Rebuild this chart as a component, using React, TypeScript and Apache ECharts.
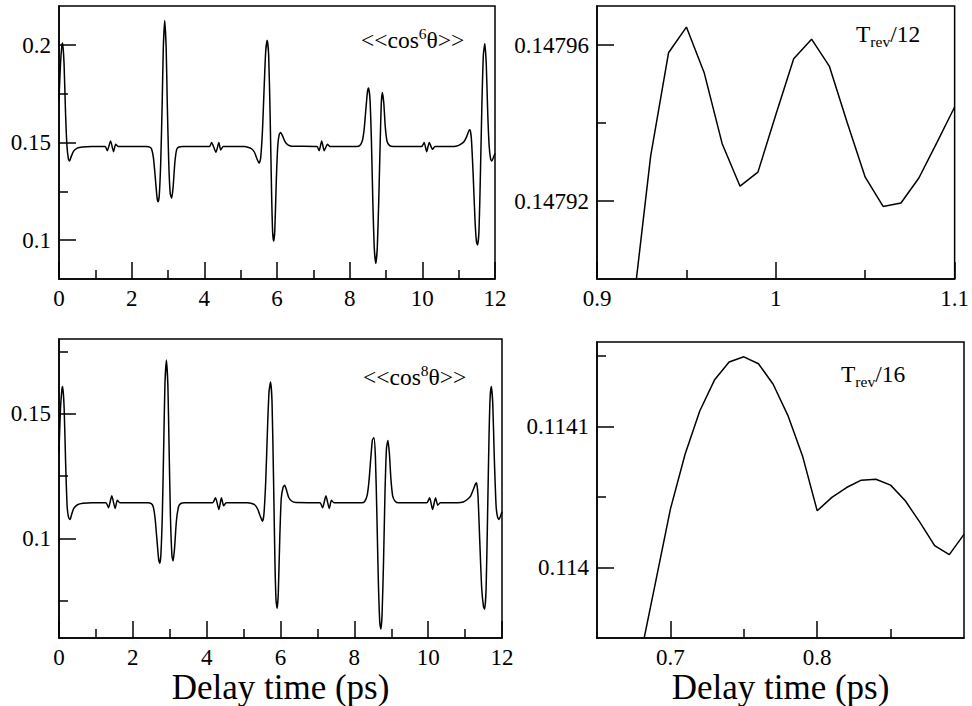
import { useEffect, useRef } from "react";
import * as echarts from "echarts";

const FONT = "Liberation Serif";

// <<cos^6 theta>> versus delay time (ps)
const cos6Data: [number, number][] = [
  [0, 0.172], [0.04, 0.19], [0.08, 0.2], [0.1, 0.201], [0.14, 0.19], [0.18, 0.165], [0.22, 0.148], [0.26, 0.1415],
  [0.29, 0.1405], [0.33, 0.1425], [0.4, 0.1455], [0.5, 0.1471], [0.65, 0.1477], [0.9, 0.1479],
  [1.27, 0.1479], [1.33, 0.1458], [1.42, 0.1508], [1.5, 0.1453], [1.56, 0.1491], [1.63, 0.1479],
  [2.4, 0.1479], [2.5, 0.1476], [2.55, 0.1465], [2.6, 0.142], [2.65, 0.132], [2.7, 0.1215], [2.73, 0.1196],
  [2.76, 0.123], [2.8, 0.14], [2.84, 0.17], [2.87, 0.198], [2.91, 0.2126], [2.95, 0.198], [2.98, 0.17],
  [3.02, 0.14], [3.06, 0.124], [3.1, 0.1214], [3.14, 0.127], [3.19, 0.14], [3.24, 0.1465], [3.3, 0.1477], [3.4, 0.1479],
  [4.14, 0.1479], [4.2, 0.15], [4.32, 0.145], [4.4, 0.15], [4.45, 0.1462], [4.52, 0.1479],
  [5.1, 0.1479], [5.2, 0.1476], [5.3, 0.1468], [5.38, 0.145], [5.45, 0.1415], [5.51, 0.1394], [5.55, 0.142],
  [5.6, 0.156], [5.65, 0.18], [5.69, 0.197], [5.73, 0.2024], [5.77, 0.195], [5.81, 0.165], [5.85, 0.125],
  [5.88, 0.104], [5.91, 0.0994], [5.94, 0.105], [5.98, 0.13], [6.02, 0.148], [6.06, 0.154], [6.1, 0.1551],
  [6.15, 0.1535], [6.22, 0.1505], [6.3, 0.1488], [6.4, 0.1481],
  [7.1, 0.1479], [7.16, 0.1458], [7.23, 0.1508], [7.3, 0.1458], [7.39, 0.1491], [7.46, 0.1479],
  [8.2, 0.1479], [8.28, 0.1484], [8.35, 0.151], [8.4, 0.157], [8.45, 0.168], [8.49, 0.176], [8.52, 0.1779],
  [8.56, 0.172], [8.6, 0.15], [8.64, 0.118], [8.68, 0.095], [8.72, 0.088], [8.76, 0.096], [8.8, 0.12],
  [8.84, 0.15], [8.87, 0.17], [8.9, 0.1756], [8.94, 0.17], [8.98, 0.158], [9.03, 0.1505], [9.1, 0.1484], [9.2, 0.1479],
  [9.98, 0.1479], [10.05, 0.15], [10.12, 0.1453], [10.19, 0.15], [10.28, 0.1465], [10.35, 0.1479],
  [10.8, 0.1479], [10.95, 0.1482], [11.05, 0.149], [11.15, 0.1505], [11.22, 0.153], [11.28, 0.156], [11.31, 0.1565],
  [11.35, 0.152], [11.4, 0.133], [11.45, 0.11], [11.49, 0.099], [11.52, 0.0974], [11.56, 0.105], [11.6, 0.135],
  [11.64, 0.17], [11.68, 0.195], [11.72, 0.2007], [11.76, 0.19], [11.8, 0.165], [11.84, 0.148], [11.88, 0.1415],
  [11.91, 0.1405], [11.95, 0.142], [12, 0.1445],
];

// <<cos^8 theta>> versus delay time (ps)
const cos8Data: [number, number][] = [
  [0, 0.135], [0.04, 0.152], [0.08, 0.16], [0.1, 0.1609], [0.14, 0.152], [0.18, 0.13], [0.22, 0.113], [0.26, 0.1083],
  [0.3, 0.1076], [0.34, 0.1095], [0.4, 0.112], [0.5, 0.1135], [0.65, 0.1141], [0.9, 0.1143],
  [1.27, 0.1143], [1.34, 0.1123], [1.43, 0.1171], [1.52, 0.112], [1.58, 0.1153], [1.65, 0.1143],
  [2.4, 0.1143], [2.5, 0.114], [2.55, 0.1128], [2.6, 0.1085], [2.65, 0.1], [2.7, 0.0915], [2.73, 0.09],
  [2.76, 0.0935], [2.8, 0.11], [2.84, 0.14], [2.87, 0.162], [2.91, 0.1716], [2.95, 0.161], [2.98, 0.138],
  [3.02, 0.108], [3.06, 0.093], [3.09, 0.0909], [3.13, 0.096], [3.18, 0.107], [3.24, 0.1128], [3.3, 0.114], [3.4, 0.1143],
  [4.16, 0.1143], [4.24, 0.1163], [4.33, 0.1116], [4.4, 0.1163], [4.46, 0.1131], [4.53, 0.1143],
  [5.1, 0.1143], [5.2, 0.1141], [5.3, 0.1135], [5.38, 0.1118], [5.45, 0.109], [5.51, 0.1069], [5.55, 0.1095],
  [5.6, 0.123], [5.65, 0.145], [5.69, 0.159], [5.73, 0.1627], [5.77, 0.155], [5.81, 0.125], [5.85, 0.09],
  [5.88, 0.075], [5.91, 0.072], [5.94, 0.078], [5.98, 0.1], [6.02, 0.116], [6.07, 0.1205], [6.11, 0.1213],
  [6.16, 0.1195], [6.22, 0.1165], [6.3, 0.115], [6.42, 0.1144],
  [7.07, 0.1143], [7.14, 0.1123], [7.23, 0.1171], [7.32, 0.112], [7.38, 0.1153], [7.45, 0.1143],
  [8.2, 0.1143], [8.28, 0.1148], [8.35, 0.1175], [8.4, 0.1235], [8.45, 0.133], [8.49, 0.1395], [8.53, 0.1404],
  [8.57, 0.133], [8.61, 0.11], [8.65, 0.083], [8.69, 0.066], [8.72, 0.0636], [8.75, 0.069], [8.79, 0.09],
  [8.83, 0.118], [8.87, 0.136], [8.91, 0.1393], [8.95, 0.134], [8.99, 0.124], [9.04, 0.117], [9.11, 0.1148], [9.2, 0.1143],
  [9.96, 0.1143], [10.04, 0.1163], [10.12, 0.1116], [10.2, 0.1163], [10.26, 0.1133], [10.33, 0.1143],
  [10.8, 0.1143], [10.95, 0.1146], [11.05, 0.1155], [11.15, 0.117], [11.22, 0.1195], [11.28, 0.1218], [11.31, 0.1223],
  [11.35, 0.117], [11.4, 0.098], [11.45, 0.08], [11.5, 0.0725], [11.53, 0.0716], [11.57, 0.08], [11.61, 0.11],
  [11.65, 0.142], [11.68, 0.157], [11.71, 0.1609], [11.75, 0.154], [11.79, 0.133], [11.84, 0.113], [11.88, 0.1085],
  [11.92, 0.1076], [11.96, 0.109], [12, 0.1107],
];

// T_rev/12 zoom
const trev12Time = [0.92, 0.93, 0.94, 0.95, 0.96, 0.97, 0.98, 0.99, 1.0, 1.01, 1.02, 1.03, 1.04, 1.05, 1.06, 1.07, 1.08, 1.09, 1.1];
const trev12Value = [0.147892, 0.1479315, 0.147958, 0.1479646, 0.1479528, 0.1479347, 0.1479238, 0.1479274, 0.1479421,
  0.1479565, 0.1479615, 0.1479545, 0.14794, 0.1479261, 0.1479186, 0.1479195, 0.1479259, 0.1479349, 0.1479441];

// T_rev/16 zoom
const trev16Time = [0.68, 0.69, 0.7, 0.71, 0.72, 0.73, 0.74, 0.75, 0.76, 0.77, 0.78, 0.79, 0.8, 0.81, 0.82, 0.83, 0.84,
  0.85, 0.86, 0.87, 0.88, 0.89, 0.9];
const trev16Value = [0.1139392, 0.1139903, 0.1140415, 0.1140804, 0.1141111, 0.114133, 0.1141458, 0.1141495, 0.1141446,
  0.11413, 0.114108, 0.1140792, 0.1140403, 0.1140498, 0.1140568, 0.114062, 0.1140627, 0.1140585, 0.1140474, 0.1140321,
  0.1140156, 0.1140092, 0.1140236];

// ticks (major ones carry labels)
const leftXMajor = [0, 2, 4, 6, 8, 10, 12];
const leftXMinor = [1, 3, 5, 7, 9, 11];
const cos6YMajor = [0.1, 0.15, 0.2];
const cos6YMinor = [0.125, 0.175];
const cos8YMajor = [0.1, 0.15];
const cos8YMinor = [0.075, 0.125, 0.175];
const trev12XMajor = [0.9, 1.0, 1.1];
const trev12XMinor = [0.95, 1.05];
const trev12YMajor = [0.14792, 0.14796];
const trev12YMinor = [0.14794];
const trev16XMajor = [0.7, 0.8];
const trev16XMinor = [0.75, 0.85];
const trev16YMajor = [0.114, 0.1141];
const trev16YMinor = [0.11405, 0.11415];

const X_NAME = "Delay time (ps)";

function axes(
  dim: "x" | "y",
  gridIndex: number,
  min: number,
  max: number,
  step: number,
  major: number[],
  minor: number[],
  name?: string
) {
  const base: any = {
    type: "value",
    gridIndex,
    min,
    max,
    position: dim === "x" ? "bottom" : "left",
    splitLine: { show: false },
  };
  const majorAxis: any = {
    ...base,
    interval: step,
    axisLine: { show: true, onZero: false, lineStyle: { color: "#000", width: 1.5 } },
    axisTick: { show: true, inside: true, length: 17, customValues: major, lineStyle: { color: "#000", width: 1.5 } },
    axisLabel: {
      show: true,
      showMinLabel: true,
      showMaxLabel: true,
      hideOverlap: false,
      formatter: (v: number) => {
        const hit = major.find((m) => Math.abs(m - v) < step * 1e-3);
        return hit === undefined ? "" : String(hit);
      },
      color: "#000",
      fontFamily: FONT,
      fontSize: 23,
      margin: 8,
    },
  };
  if (name) {
    majorAxis.name = name;
    majorAxis.nameLocation = "middle";
    majorAxis.nameGap = 26;
    majorAxis.nameTextStyle = { fontFamily: FONT, fontSize: 35, color: "#000" };
  }
  const minorAxis: any = {
    ...base,
    axisLine: { show: false, onZero: false },
    axisLabel: { show: false },
    axisTick: { show: true, inside: true, length: 9, customValues: minor, lineStyle: { color: "#000", width: 1.5 } },
  };
  return [majorAxis, minorAxis];
}

export default function App() {
  const ref = useRef<HTMLDivElement>(null);
  useEffect(() => {
    if (!ref.current) return;
    const chart = echarts.init(ref.current, undefined, { renderer: "svg" });
    const gridStyle = { show: true, borderColor: "#000", borderWidth: 1.5, backgroundColor: "transparent", containLabel: false };
    const lineSeries = (data: any, idx: number, smooth: number | boolean) => ({
      type: "line",
      data,
      xAxisIndex: idx * 2,
      yAxisIndex: idx * 2,
      showSymbol: false,
      symbol: "none",
      smooth,
      clip: true,
      lineStyle: { color: "#000", width: 1.5 },
    });
    const sup = {
      a: { fontFamily: FONT, fontSize: 23.5, lineHeight: 30, verticalAlign: "middle", fill: "#000", color: "#000" },
      s: { fontFamily: FONT, fontSize: 15.5, lineHeight: 20, verticalAlign: "top", fill: "#000", color: "#000" },
    };
    const sub = {
      a: { fontFamily: FONT, fontSize: 23.5, lineHeight: 30, verticalAlign: "middle", fill: "#000", color: "#000" },
      b: { fontFamily: FONT, fontSize: 15.5, lineHeight: 15, verticalAlign: "bottom", fill: "#000", color: "#000" },
    };
    chart.setOption({
      animation: false,
      backgroundColor: "#fff",
      textStyle: { fontFamily: FONT, fontSize: 23, color: "#000" },
      grid: [
        { ...gridStyle, left: 59, top: 6, width: 436, height: 273 },
        { ...gridStyle, left: 597, top: 6, width: 362, height: 273 },
        { ...gridStyle, left: 59, top: 339, width: 443, height: 301 },
        { ...gridStyle, left: 597, top: 342, width: 367, height: 298 },
      ],
      xAxis: [
        ...axes("x", 0, 0, 12, 2, leftXMajor, leftXMinor),
        ...axes("x", 1, 0.9, 1.1, 0.1, trev12XMajor, trev12XMinor),
        ...axes("x", 2, 0, 12, 2, leftXMajor, leftXMinor, X_NAME),
        ...axes("x", 3, 0.65, 0.9, 0.05, trev16XMajor, trev16XMinor, X_NAME),
      ],
      yAxis: [
        ...axes("y", 0, 0.08, 0.22, 0.01, cos6YMajor, cos6YMinor),
        ...axes("y", 1, 0.1479, 0.14797, 0.00001, trev12YMajor, trev12YMinor),
        ...axes("y", 2, 0.06, 0.18, 0.01, cos8YMajor, cos8YMinor),
        ...axes("y", 3, 0.11395, 0.11416, 0.00001, trev16YMajor, trev16YMinor),
      ],
      series: [
        lineSeries(cos6Data, 0, 0.2),
        lineSeries(trev12Time.map((t, i) => [t, trev12Value[i]]), 1, false),
        lineSeries(cos8Data, 2, 0.2),
        lineSeries(trev16Time.map((t, i) => [t, trev16Value[i]]), 3, false),
      ],
      graphic: [
        { type: "text", x: 361, y: 25, style: { text: "{a|<<cos}{s|6}{a|θ>>}", rich: sup, fill: "#000" } },
        { type: "text", x: 363, y: 362, style: { text: "{a|<<cos}{s|8}{a|θ>>}", rich: sup, fill: "#000" } },
        { type: "text", x: 856, y: 19, style: { text: "{a|T}{b|rev}{a|/12}", rich: sub, fill: "#000" } },
        { type: "text", x: 841, y: 359, style: { text: "{a|T}{b|rev}{a|/16}", rich: sub, fill: "#000" } },
      ],
    });
    return () => chart.dispose();
  }, []);
  return <div ref={ref} style={{ position: "fixed", left: 0, top: 0, width: 972, height: 706, background: "#fff" }} />;
}
